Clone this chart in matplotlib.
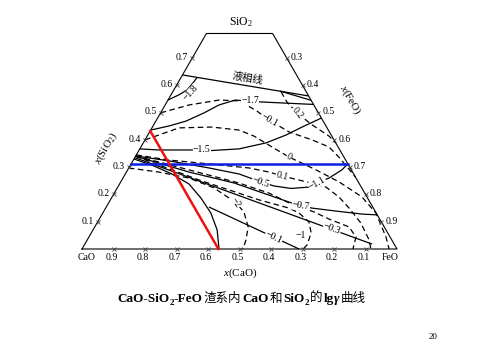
import numpy as np
import matplotlib
matplotlib.use("Agg")
import matplotlib.pyplot as plt

plt.rcParams['font.family'] = ['Liberation Serif', 'DejaVu Serif', 'Noto Sans CJK SC']
plt.rcParams['mathtext.fontset'] = 'custom'
plt.rcParams['mathtext.rm'] = 'Liberation Serif'
plt.rcParams['mathtext.it'] = 'Liberation Serif:italic'
plt.rcParams['mathtext.bf'] = 'Liberation Serif:bold'
plt.rcParams['mathtext.default'] = 'regular'

# ---------------- data (compositions: x(SiO2), x(FeO)) ----------------
SIO2_TOP = 0.79

left_ticks = [0.1, 0.2, 0.3, 0.4, 0.5, 0.6, 0.7]          # x(SiO2) on CaO-SiO2 edge
right_ticks = [0.3, 0.4, 0.5, 0.6, 0.7, 0.8, 0.9]         # x(FeO) on SiO2-FeO edge
bottom_ticks = [0.9, 0.8, 0.7, 0.6, 0.5, 0.4, 0.3, 0.2, 0.1]  # x(CaO) on CaO-FeO edge

# liquidus
liq_s = [0.638, 0.561]
liq_f = [0.0, 0.439]
liq2_s = [0.579, 0.545]
liq2_f = [0.339, 0.455]

# solid iso-lines
c18_s = [0.629, 0.609, 0.583, 0.565, 0.546]
c18_f = [0.051, 0.048, 0.042, 0.025, 0.0]
c17_s = [0.436, 0.451, 0.469, 0.499, 0.528, 0.546, 0.539, 0.535, 0.530]
c17_f = [0.0, 0.051, 0.096, 0.138, 0.171, 0.213, 0.299, 0.374, 0.470]
c15_s = [0.367, 0.363, 0.363, 0.361, 0.367, 0.389, 0.418, 0.447, 0.480]
c15_f = [0.0, 0.063, 0.168, 0.232, 0.315, 0.390, 0.439, 0.475, 0.520]
c05_s = [0.341, 0.323, 0.297, 0.275, 0.246, 0.231, 0.222, 0.227, 0.242, 0.260, 0.290, 0.312]
c05_f = [0.0, 0.115, 0.255, 0.361, 0.445, 0.494, 0.553, 0.607, 0.625, 0.654, 0.680, 0.688]
c07_s = [0.340, 0.282, 0.242, 0.172, 0.158, 0.150, 0.139, 0.128, 0.125]
c07_f = [0.0, 0.199, 0.362, 0.571, 0.616, 0.655, 0.737, 0.825, 0.875]
c03_s = [0.335, 0.018]
c03_f = [0.0, 0.912]
cb_s = [0.330, 0.304, 0.275, 0.238, 0.187, 0.132, 0.070, 0.0]
cb_f = [0.0, 0.077, 0.148, 0.221, 0.284, 0.343, 0.394, 0.435]
c01_s = [0.154, 0.0]
c01_f = [0.326, 0.689]

# dashed iso-lines
d02_s = [0.576, 0.539, 0.499, 0.455, 0.414, 0.389]
d02_f = [0.344, 0.381, 0.433, 0.503, 0.577, 0.611]
dm01u_s = [0.499, 0.528, 0.546, 0.543, 0.506, 0.473, 0.429, 0.400, 0.374, 0.337, 0.264]
dm01u_f = [0.0, 0.076, 0.162, 0.227, 0.302, 0.357, 0.443, 0.530, 0.597, 0.647, 0.736]
d0_s = [0.400, 0.444, 0.447, 0.436, 0.414, 0.374, 0.337, 0.290, 0.246, 0.191, 0.132, 0.044, 0.0]
d0_f = [0.0, 0.086, 0.189, 0.280, 0.339, 0.416, 0.489, 0.598, 0.693, 0.793, 0.867, 0.943, 0.975]
d01_s = [0.345, 0.326, 0.312, 0.297, 0.282, 0.268, 0.253, 0.227, 0.191, 0.150, 0.095, 0.033, 0.0]
d01_f = [0.0, 0.113, 0.247, 0.382, 0.453, 0.501, 0.562, 0.661, 0.720, 0.773, 0.838, 0.895, 0.917]
d03_s = [0.341, 0.290, 0.242, 0.205, 0.169, 0.136, 0.110, 0.081, 0.044, 0.0]
d03_f = [0.0, 0.195, 0.377, 0.491, 0.573, 0.668, 0.729, 0.807, 0.848, 0.860]
dm1_s = [0.340, 0.253, 0.180, 0.150, 0.132, 0.099, 0.059, 0.015, 0.0]
dm1_f = [0.0, 0.245, 0.472, 0.582, 0.623, 0.671, 0.698, 0.707, 0.702]
dm2_s = [0.297, 0.282, 0.260, 0.224, 0.187, 0.169, 0.136, 0.081, 0.033, 0.0]
dm2_f = [0.0, 0.103, 0.210, 0.307, 0.373, 0.404, 0.446, 0.487, 0.504, 0.511]

# highlighted composition lines
blue_sio2 = 0.312
red_cao = 0.567

# curve labels
lab_text = ["−1.8", "−1.7", "−0.1", "0.2", "−1.5", "0", "0.1", "−0.5", "−1.1",
            "−0.7", "−0.3", "−1", "−0.1", "−2"]
lab_s = [0.572, 0.543, 0.473, 0.499, 0.363, 0.337, 0.268, 0.246, 0.242,
         0.158, 0.073, 0.051, 0.044, 0.169]
lab_f = [0.060, 0.262, 0.357, 0.433, 0.199, 0.489, 0.501, 0.445, 0.625,
         0.616, 0.757, 0.670, 0.587, 0.404]
lab_rot = [48, 0, -30, -50, 0, -28, -15, -18, 30, -8, -20, 0, -25, -55]


def T(s, f):
    s = np.asarray(s, float)
    f = np.asarray(f, float)
    return f + s / 2.0, s * np.sqrt(3) / 2.0


fig = plt.figure(figsize=(4.8, 3.6), dpi=100)
fig.patch.set_facecolor('white')
ax = fig.add_axes([82 / 480, 111 / 360, 315 / 480, 272.8 / 360])
ax.set_xlim(0, 1)
ax.set_ylim(0, np.sqrt(3) / 2)
ax.axis('off')

# outline (truncated triangle)
ox, oy = T([0, SIO2_TOP, SIO2_TOP, 0, 0], [0, 0, 1 - SIO2_TOP, 1, 0])
ax.plot(ox, oy, color='black', lw=0.8, clip_on=False)

LW = 0.9
for s, f in [(liq_s, liq_f), (liq2_s, liq2_f), (c18_s, c18_f), (c17_s, c17_f),
             (c15_s, c15_f), (c05_s, c05_f), (c07_s, c07_f), (c03_s, c03_f),
             (cb_s, cb_f), (c01_s, c01_f)]:
    x, y = T(s, f)
    ax.plot(x, y, color='black', lw=LW, solid_capstyle='butt', clip_on=False)

for s, f in [(d02_s, d02_f), (dm01u_s, dm01u_f), (d0_s, d0_f), (d01_s, d01_f),
             (d03_s, d03_f), (dm1_s, dm1_f), (dm2_s, dm2_f)]:
    x, y = T(s, f)
    ax.plot(x, y, color='black', lw=LW, ls=(0, (4.5, 2.8)), clip_on=False)

# labels on curves
for t, s, f, r in zip(lab_text, lab_s, lab_f, lab_rot):
    x, y = T(s, f)
    ax.text(x, y, t, fontsize=7, ha='center', va='center', rotation=r,
            rotation_mode='anchor',
            bbox=dict(facecolor='white', edgecolor='none', pad=0.3), zorder=4)

# liquidus label
lx, ly = T(0.626, 0.213)
ax.text(lx, ly, "液相线", fontsize=7.5, family=['Noto Sans CJK SC'], ha='center',
        va='center', rotation=-9, rotation_mode='anchor', zorder=4)

# blue and red lines
bx, by = T([blue_sio2, blue_sio2], [0, 1 - blue_sio2])
ax.plot(bx, by, color='#0a1ee6', lw=1.8, zorder=5, clip_on=False)
rs0 = 1 - red_cao
rx, ry = T([rs0, 0], [0, rs0])
ax.plot(rx, ry, color='#ee1111', lw=1.8, zorder=5, clip_on=False)

# ticks and tick labels
tk = dict(marker='x', ms=3.5, mew=0.6, color='#444444', ls='none', clip_on=False, zorder=3)
for v in left_ticks:
    x, y = T(v, 0)
    ax.plot(x, y, **tk)
    ax.annotate(f"{v:.1f}", (x, y), xytext=(-3, 0.5), textcoords='offset points',
                ha='right', va='center', fontsize=7, annotation_clip=False)
for v in right_ticks:
    x, y = T(1 - v, v)
    ax.plot(x, y, **tk)
    ax.annotate(f"{v:.1f}", (x, y), xytext=(3, 0.5), textcoords='offset points',
                ha='left', va='center', fontsize=7, annotation_clip=False)
for v in bottom_ticks:
    x, y = T(0, 1 - v)
    ax.plot(x, y, **tk)
    ax.annotate(f"{v:.1f}", (x, y), xytext=(-1.5, -3), textcoords='offset points',
                ha='center', va='top', fontsize=7, annotation_clip=False)
ax.annotate("CaO", T(0, 0), xytext=(3.5, -3), textcoords='offset points',
            ha='center', va='top', fontsize=7, annotation_clip=False)
ax.annotate("FeO", T(0, 1), xytext=(-5, -3), textcoords='offset points',
            ha='center', va='top', fontsize=7, annotation_clip=False)

# axis titles
fig.text(241 / 480, 1 - 22 / 360, "SiO$_2$", fontsize=8.5, ha='center', va='center')
fig.text(240 / 480, 1 - 273 / 360, r"$\mathit{x}$(CaO)", fontsize=8, ha='center', va='center')
fig.text(106 / 480, 1 - 148 / 360, r"$\mathit{x}$(SiO$_2$)", fontsize=8, ha='center',
         va='center', rotation=60)
fig.text(350 / 480, 1 - 100 / 360, r"$\mathit{x}$(FeO)", fontsize=8, ha='center',
         va='center', rotation=-60)

# caption built from pieces
cap_parts = ["CaO-SiO", "2", "-FeO", "渣系内", "CaO", "和", "SiO", "2", "的", "lg", "γ", "曲线"]
cap_kinds = ["b", "sub", "b", "cjk", "b", "cjk", "b", "sub", "cjk", "b", "bi", "cjk"]
styles = {
    "b": dict(family=['Liberation Serif'], fontweight='bold', fontsize=9.5),
    "sub": dict(family=['Liberation Serif'], fontweight='bold', fontsize=6.5),
    "cjk": dict(family=['Noto Sans CJK SC'], fontweight='normal', fontsize=9),
    "bi": dict(family=['Liberation Serif'], fontweight='bold', fontstyle='italic', fontsize=9.5),
}
base_y = 360 - 302
prev = None
prev_kind = None
for part, kind in zip(cap_parts, cap_kinds):
    dy = -2.5 if kind == "sub" else 0
    dx = 0.8 if (prev_kind == "cjk" or kind == "cjk") else 0
    if prev is None:
        prev = ax.annotate(part, xy=(117, base_y), xycoords='figure pixels',
                           ha='left', va='baseline', annotation_clip=False, **styles[kind])
    else:
        prev = ax.annotate(part, xy=(1, base_y), xycoords=(prev, 'figure pixels'),
                           xytext=(dx, dy), textcoords='offset points',
                           ha='left', va='baseline', annotation_clip=False, **styles[kind])
    prev_kind = kind

fig.text(433 / 480, 1 - 337 / 360, "20", fontsize=6.5, ha='center', va='center')

fig.savefig("out.png", dpi=100, facecolor='white')
